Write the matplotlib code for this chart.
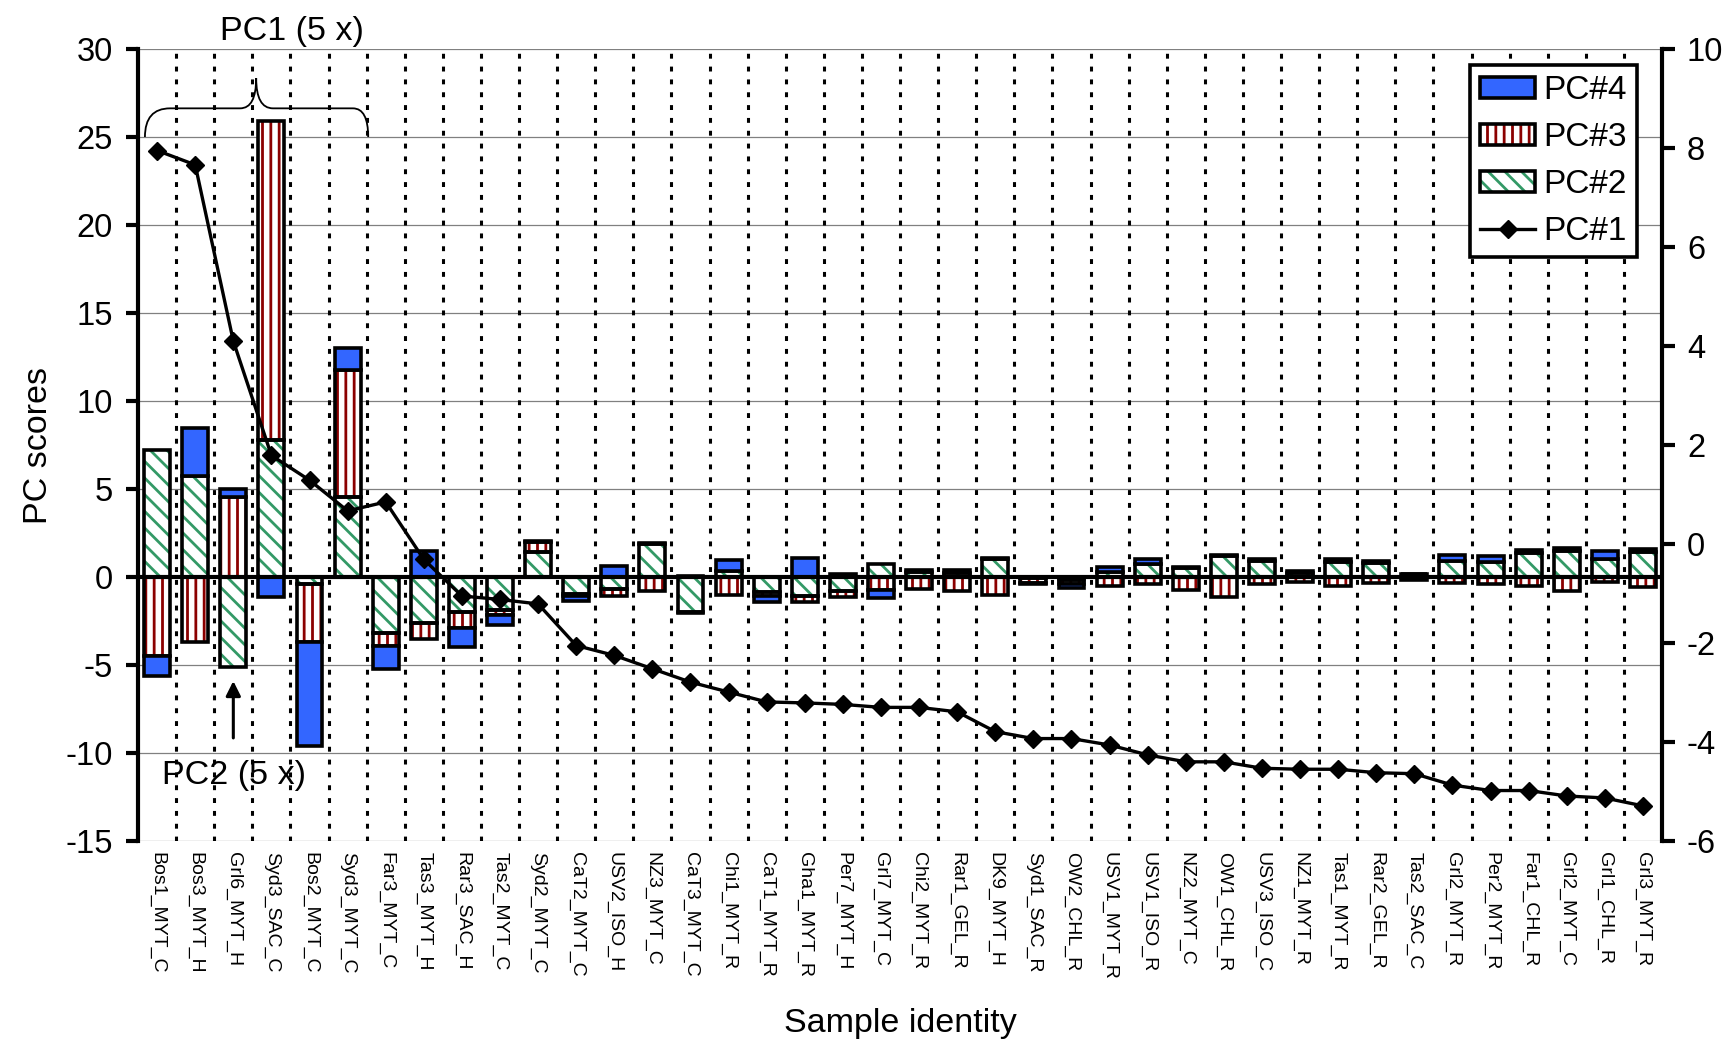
import matplotlib
matplotlib.use("Agg")
import matplotlib.pyplot as plt
import numpy as np
from matplotlib.patches import Patch, PathPatch
from matplotlib.lines import Line2D
from matplotlib.path import Path
from matplotlib.legend_handler import HandlerTuple

plt.rcParams['font.family'] = ['Liberation Sans', 'DejaVu Sans']
plt.rcParams['hatch.linewidth'] = 2.0
plt.rcParams['axes.unicode_minus'] = False

samples = ["Bos1_MYT_C", "Bos3_MYT_H", "Grl6_MYT_H", "Syd3_SAC_C", "Bos2_MYT_C", "Syd3_MYT_C",
           "Far3_MYT_C", "Tas3_MYT_H", "Rar3_SAC_H", "Tas2_MYT_C", "Syd2_MYT_C", "CaT2_MYT_C",
           "USV2_ISO_H", "NZ3_MYT_C", "CaT3_MYT_C", "Chi1_MYT_R", "CaT1_MYT_R", "Gha1_MYT_R",
           "Per7_MYT_H", "Grl7_MYT_C", "Chi2_MYT_R", "Rar1_GEL_R", "DK9_MYT_H", "Syd1_SAC_R",
           "OW2_CHL_R", "USV1_MYT_R", "USV1_ISO_R", "NZ2_MYT_C", "OW1_CHL_R", "USV3_ISO_C",
           "NZ1_MYT_R", "Tas1_MYT_R", "Rar2_GEL_R", "Tas2_SAC_C", "Grl2_MYT_R", "Per2_MYT_R",
           "Far1_CHL_R", "Grl2_MYT_C", "Grl1_CHL_R", "Grl3_MYT_R"]

# left axis (PC2 shown 5x)
pc2 = [7.2, 5.75, -5.1, 7.8, -0.4, 4.55, -3.2, -2.6, -2.0, -1.9, 1.4, -0.95,
       -0.7, 1.9, -2.0, 0.35, -0.85, -1.1, -0.8, 0.75, 0.3, 0.25, 1.05, -0.05,
       -0.15, 0.3, 0.75, 0.5, 1.2, 0.9, 0.25, 0.85, 0.8, 0.15, 0.9, 0.85,
       1.35, 1.5, 1.05, 1.4]
pc3 = [-4.5, -3.7, 4.55, 18.1, -3.3, 7.2, -0.7, -0.9, -0.9, -0.25, 0.6, -0.15,
       -0.35, -0.8, -0.05, -1.0, -0.25, -0.3, -0.35, -0.75, -0.7, -0.8, -1.0, -0.3,
       -0.25, -0.5, -0.4, -0.75, -1.15, -0.4, -0.3, -0.5, -0.35, -0.15, -0.35, -0.4,
       -0.5, -0.8, -0.3, -0.55]
pc4 = [-1.1, 2.7, 0.45, -1.15, -5.9, 1.25, -1.3, 1.5, -1.05, -0.6, 0.05, -0.25,
       0.65, 0.05, 0.05, 0.6, -0.3, 1.1, 0.15, -0.45, 0.1, 0.15, 0.05, -0.05,
       -0.2, 0.25, 0.3, 0.05, 0.05, 0.15, 0.1, 0.2, 0.1, 0.05, 0.35, 0.35,
       0.2, 0.15, 0.45, 0.2]
# right axis
pc1 = [7.95, 7.66, 4.1, 1.79, 1.29, 0.67, 0.85, -0.31, -1.05, -1.12, -1.21, -2.05,
       -2.25, -2.52, -2.79, -2.99, -3.19, -3.21, -3.24, -3.3, -3.3, -3.39, -3.79, -3.93,
       -3.93, -4.06, -4.26, -4.4, -4.4, -4.53, -4.55, -4.55, -4.62, -4.64, -4.87, -4.98,
       -4.98, -5.09, -5.13, -5.29]

blue = '#3366FF'
red = '#8B0000'
green = '#339966'

fig = plt.figure(figsize=(17.28, 10.41), dpi=100)
ax = fig.add_axes([0.0799, 0.1921, 0.9618 - 0.0799, 0.9529 - 0.1921])
x = np.arange(len(samples))
w = 0.68

# grid
for v in range(-15, 31, 5):
    if v != 0:
        ax.axhline(v, color='#808080', lw=0.9, zorder=0)
for b in x[:-1] + 0.5:
    ax.axvline(b, color='black', lw=2.2, linestyle=(0, (1.6, 2.6)), zorder=0.5)

# stacked bars, positives up and negatives down
pos = np.zeros(len(x))
neg = np.zeros(len(x))
series = [(pc2, 'w', green, '\\\\'), (pc3, 'w', red, '||'), (pc4, blue, 'black', None)]
for vals, fc, hc, hatch in series:
    vals = np.array(vals)
    bottom = np.where(vals >= 0, pos, neg)
    if hatch:
        ax.bar(x, vals, w, bottom=bottom, facecolor=fc, edgecolor=hc, hatch=hatch, lw=0, zorder=2)
        ax.bar(x, vals, w, bottom=bottom, fill=False, edgecolor='black', lw=2.6, zorder=2.1)
    else:
        ax.bar(x, vals, w, bottom=bottom, facecolor=fc, edgecolor='black', lw=2.6, zorder=2.1)
    pos = pos + np.where(vals >= 0, vals, 0)
    neg = neg + np.where(vals < 0, vals, 0)

ax.axhline(0, color='black', lw=3, zorder=3)

ax.set_xlim(-0.5, len(samples) - 0.5)
ax.set_ylim(-15, 30)
ax.set_yticks(range(-15, 31, 5))
ax.set_xticks(x)
ax.set_xticklabels(samples, rotation=270, fontsize=14, va='top', ha='center')
ax.tick_params(axis='x', length=0, pad=8)
ax.tick_params(axis='y', labelsize=23.5, width=3, length=9, pad=9, direction='out')
for s in ['top', 'bottom', 'right']:
    ax.spines[s].set_visible(False)
ax.spines['left'].set_linewidth(3)
ax.set_ylabel('PC scores', fontsize=24.5, labelpad=8)
ax.set_xlabel('Sample identity', fontsize=24.5, labelpad=20)

# brace above first six samples
verts = [(-0.32, 25.0), (-0.32, 26.63), (0.34, 26.63), (2.18, 26.63), (2.6, 26.63), (2.6, 28.35),
         (2.6, 26.63), (3.04, 26.63), (5.14, 26.63), (5.54, 26.63), (5.54, 25.0)]
codes = [Path.MOVETO, Path.CURVE3, Path.CURVE3, Path.LINETO, Path.CURVE3, Path.CURVE3,
         Path.CURVE3, Path.CURVE3, Path.LINETO, Path.CURVE3, Path.CURVE3]
ax.add_patch(PathPatch(Path(verts, codes), fill=False, lw=1.3, color='black', clip_on=False, zorder=4))
ax.text(3.54, 31.0, 'PC1 (5 x)', fontsize=24.5, ha='center', va='center', clip_on=False)
ax.annotate('', xy=(2, -5.75), xytext=(2, -9.3),
            arrowprops=dict(arrowstyle='-|>', lw=2.2, color='black', mutation_scale=22))
ax.text(2.02, -11.25, 'PC2 (5 x)', fontsize=24.5, ha='center', va='center')

# PC1 on right axis
ax2 = ax.twinx()
ax2.plot(x, pc1, color='black', lw=2.4, marker='D', markersize=9, zorder=5)
ax2.set_ylim(-6, 10)
ax2.set_yticks(range(-6, 11, 2))
ax2.tick_params(axis='y', labelsize=23.5, width=3, length=9, pad=9, direction='out')
for s in ['top', 'bottom', 'left']:
    ax2.spines[s].set_visible(False)
ax2.spines['right'].set_linewidth(3)

h4 = Patch(facecolor=blue, edgecolor='black', lw=2.6)
h3 = (Patch(facecolor='w', edgecolor=red, hatch='||', lw=0), Patch(fill=False, edgecolor='black', lw=2.6))
h2 = (Patch(facecolor='w', edgecolor=green, hatch='\\\\', lw=0), Patch(fill=False, edgecolor='black', lw=2.6))
h1 = Line2D([], [], color='black', lw=2.4, marker='D', markersize=9)
leg = ax2.legend([h4, h3, h2, h1], ['PC#4', 'PC#3', 'PC#2', 'PC#1'],
                 handler_map={tuple: HandlerTuple(ndivide=1)},
                 loc='upper right', bbox_to_anchor=(0.9836, 0.98), borderaxespad=0, fontsize=24,
                 fancybox=False, framealpha=1, edgecolor='black', handlelength=1.65,
                 handleheight=0.6, labelspacing=0.48, handletextpad=0.25, borderpad=0.3)
leg.get_frame().set_linewidth(2.6)

fig.savefig('out.png', dpi=100)
